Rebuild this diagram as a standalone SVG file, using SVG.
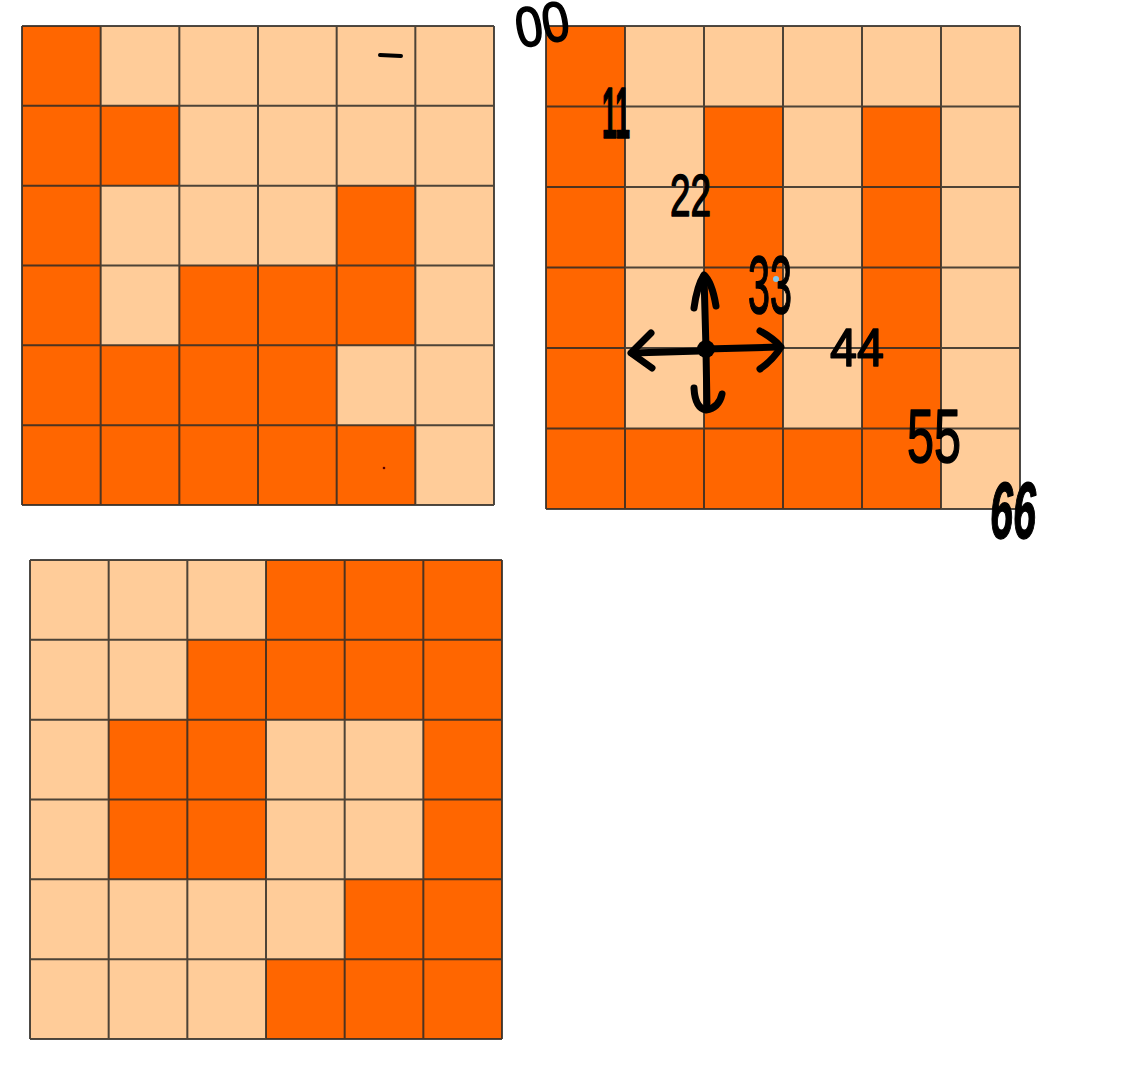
<svg xmlns="http://www.w3.org/2000/svg" width="1146" height="1074" viewBox="0 0 1146 1074">
<style>
.bg{fill:#FFCC99}
.dk{fill:#FF6600}
.gl{fill:none;stroke:#2e2a26;stroke-width:2;stroke-opacity:0.85}
.hw{font-family:"Liberation Sans","DejaVu Sans",sans-serif;fill:#000;stroke:#000;stroke-width:1.6;stroke-linejoin:round}
.ar{fill:none;stroke:#000;stroke-width:7;stroke-linecap:round;stroke-linejoin:round}
</style>
<rect width="1146" height="1074" fill="#fff"/>

<g id="grid1" transform="translate(22,26)">
<rect class="bg" x="0" y="0" width="472" height="479"/>
<rect class="dk" x="0" y="0" width="78.67" height="479"/>
<rect class="dk" x="78.67" y="79.83" width="78.67" height="79.83"/>
<rect class="dk" x="314.67" y="159.67" width="78.67" height="79.83"/>
<rect class="dk" x="157.33" y="239.5" width="236" height="79.83"/>
<rect class="dk" x="78.67" y="319.33" width="236" height="79.83"/>
<rect class="dk" x="78.67" y="399.17" width="314.67" height="79.83"/>
<path class="gl" d="M0,0V479M78.67,0V479M157.33,0V479M236,0V479M314.67,0V479M393.33,0V479M472,0V479M0,0H472M0,79.83H472M0,159.67H472M0,239.5H472M0,319.33H472M0,399.17H472M0,479H472"/>
<path d="M358,29 L379,30" stroke="#000" stroke-width="4" stroke-linecap="round" fill="none"/>
<circle cx="362" cy="442" r="1.3" fill="#5a0000"/>
</g>

<g id="grid2" transform="translate(546,26)">
<rect class="bg" x="0" y="0" width="474" height="483"/>
<rect class="dk" x="0" y="0" width="79" height="483"/>
<rect class="dk" x="158" y="80.5" width="79" height="402.5"/>
<rect class="dk" x="316" y="80.5" width="79" height="402.5"/>
<rect class="dk" x="79" y="402.5" width="79" height="80.5"/>
<rect class="dk" x="237" y="402.5" width="79" height="80.5"/>
<path class="gl" d="M0,0V483M79,0V483M158,0V483M237,0V483M316,0V483M395,0V483M474,0V483M0,0H474M0,80.5H474M0,161H474M0,241.5H474M0,322H474M0,402.5H474M0,483H474"/>
</g>

<g id="grid3" transform="translate(30,560)">
<rect class="bg" x="0" y="0" width="472" height="479"/>
<rect class="dk" x="236" y="0" width="236" height="79.83"/>
<rect class="dk" x="157.33" y="79.83" width="314.67" height="79.83"/>
<rect class="dk" x="78.67" y="159.67" width="157.33" height="159.67"/>
<rect class="dk" x="393.33" y="159.67" width="78.67" height="159.67"/>
<rect class="dk" x="314.67" y="319.33" width="157.33" height="79.83"/>
<rect class="dk" x="236" y="399.17" width="236" height="79.83"/>
<path class="gl" d="M0,0V479M78.67,0V479M157.33,0V479M236,0V479M314.67,0V479M393.33,0V479M472,0V479M0,0H472M0,79.83H472M0,159.67H472M0,239.5H472M0,319.33H472M0,399.17H472M0,479H472"/>
</g>

<g id="labels">
<text class="hw" x="519" y="48" font-size="56" textLength="54" lengthAdjust="spacingAndGlyphs" transform="rotate(-10 519 48)">00</text>
<text class="hw" x="602" y="138" font-size="72" font-weight="bold" textLength="28" lengthAdjust="spacingAndGlyphs">11</text>
<text class="hw" x="670" y="216" font-size="60" textLength="41" lengthAdjust="spacingAndGlyphs">22</text>
<text class="hw" x="748" y="313" font-size="82" textLength="44" lengthAdjust="spacingAndGlyphs">33</text>
<text class="hw" x="830" y="366" font-size="54" textLength="54" lengthAdjust="spacingAndGlyphs">44</text>
<text class="hw" x="907" y="462" font-size="76" textLength="54" lengthAdjust="spacingAndGlyphs">55</text>
<text class="hw" x="990" y="538" font-size="80" font-weight="bold" font-style="italic" textLength="46" lengthAdjust="spacingAndGlyphs">66</text>
<circle cx="776" cy="279" r="3" fill="#7fc8ee"/>
</g>

<g id="connectors">
<path class="ar" d="M706,349 L704,276"/>
<path class="ar" d="M694,308 Q697,286 704,275 Q712,282 716,306"/>
<path class="ar" d="M700,351 L632,353"/>
<path class="ar" stroke-width="5" d="M651,333 L631,353 L652,368"/>
<path class="ar" d="M706,349 L778,347"/>
<path class="ar" stroke-width="9" d="M760,331 Q773,338 781,347 Q773,360 760,369"/>
<path class="ar" d="M706,350 L707,408"/>
<path class="ar" d="M694,388 Q695,408 706,410 Q719,408 722,394"/>
<circle cx="706" cy="349" r="9" fill="#000"/>
</g>
</svg>
